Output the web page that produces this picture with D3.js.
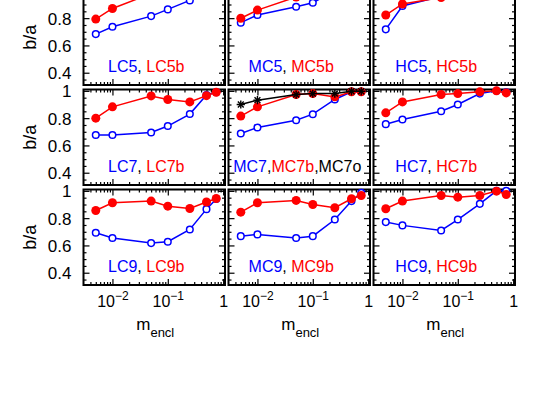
<!DOCTYPE html>
<html><head><meta charset="utf-8">
<script src="https://cdn.jsdelivr.net/npm/d3@7"></script>
<style>body{margin:0;background:#fff}svg{display:block}text{font-family:"Liberation Sans",Arial,sans-serif}</style>
</head><body><svg id="c" width="538" height="393"></svg>
<script>
// ---- data ----
const mencl = [0.005, 0.01, 0.05, 0.1, 0.25, 0.5, 0.75];
const LC5 = [0.683, 0.737, 0.815, 0.864, 0.93, 0.98, 0.99];
const LC5b = [0.793, 0.871, 0.98, 0.99, 0.99, 1.0, 1.0];
const MC5 = [0.767, 0.823, 0.884, 0.913, 1.0, 1.0, 1.0];
const MC5b = [0.799, 0.859, 0.955, 0.97, 0.98, 0.99, 0.99];
const HC5 = [0.718, 0.889, 0.96, 0.98, 0.99, 1.0, 1.0];
const HC5b = [0.823, 0.904, 0.951, 0.97, 0.99, 1.0, 0.99];
const LC7 = [0.676, 0.676, 0.695, 0.742, 0.83, 0.97, 0.99];
const LC7b = [0.80, 0.883, 0.963, 0.937, 0.919, 0.965, 0.99];
const MC7 = [0.688, 0.732, 0.785, 0.829, 0.937, 0.993, 0.993];
const MC7b = [0.815, 0.883, 0.973, 0.98, 0.956, 0.993, 0.993];
const MC7o = [0.90, 0.932, 0.973, 0.98, 0.98, 0.997, 0.997];
const HC7 = [0.756, 0.79, 0.851, 0.90, 0.98, 1.0, 0.99];
const HC7b = [0.839, 0.919, 0.973, 0.98, 0.993, 1.0, 0.985];
const LC9 = [0.693, 0.654, 0.617, 0.627, 0.717, 0.866, 0.94];
const LC9b = [0.856, 0.913, 0.925, 0.888, 0.871, 0.918, 0.944];
const MC9 = [0.668, 0.681, 0.654, 0.668, 0.79, 0.925, 0.986];
const MC9b = [0.844, 0.913, 0.93, 0.90, 0.876, 0.942, 0.966];
const HC9 = [0.771, 0.747, 0.71, 0.79, 0.905, 1.0, 1.0];
const HC9b = [0.869, 0.925, 0.966, 0.954, 0.966, 0.998, 0.973];
const xMajor = [0.01, 0.1, 1];
const xMinor = [0.004,0.005,0.006,0.007,0.008,0.009,0.02,0.03,0.04,0.05,0.06,0.07,0.08,0.09,0.2,0.3,0.4,0.5,0.6,0.7,0.8,0.9];
const xLabels = [["10","−2"],["10","−1"],["1",""]];
const yMajor = [0.4, 0.6, 0.8, 1.0];
const yMinor = [0.35,0.45,0.5,0.55,0.65,0.7,0.75,0.85,0.9,0.95];
const yLabels = ["0.4","0.6","0.8","1"];

const panels = [
  [{blue:["LC5",LC5], red:["LC5b",LC5b]}, {blue:["MC5",MC5], red:["MC5b",MC5b]}, {blue:["HC5",HC5], red:["HC5b",HC5b]}],
  [{blue:["LC7",LC7], red:["LC7b",LC7b]}, {blue:["MC7",MC7], red:["MC7b",MC7b], black:["MC7o",MC7o]}, {blue:["HC7",HC7], red:["HC7b",HC7b]}],
  [{blue:["LC9",LC9], red:["LC9b",LC9b]}, {blue:["MC9",MC9], red:["MC9b",MC9b]}, {blue:["HC9",HC9], red:["HC9b",HC9b]}]
];

// ---- layout ----
const colX = [83.5, 228.5, 373.5], rowY = [-10.5, 89.5, 189.5];
const W = 141.5, H = 95.5;
const x = d3.scaleLog().domain([0.003, 1.08]).range([0, W]);
const y = d3.scaleLinear().domain([0.31, 1.01]).range([H, 0]);
const svg = d3.select("#c");
svg.append("rect").attr("width",538).attr("height",393).attr("fill","#fff");

const line = d3.line().x(d=>x(d[0])).y(d=>y(d[1]));
const BLUE="#0000ff", RED="#ff0000";

function styleAxis(g){ g.select(".domain").remove(); g.selectAll(".tick line").attr("stroke","#000").attr("stroke-width",1.2); g.selectAll("text").attr("fill","#000").attr("font-size",16).attr("font-family","Liberation Sans, Arial, sans-serif"); }

panels.forEach((row, ri) => row.forEach((p, ci) => {
  const g = svg.append("g").attr("transform",`translate(${colX[ci]},${rowY[ri]})`);
  // ticks
  const bot = g.append("g").attr("transform",`translate(0,${H})`)
    .call(d3.axisBottom(x).tickValues(xMajor).tickSize(-6).tickPadding(10).tickFormat(""));
  g.append("g").attr("transform",`translate(0,${H})`).call(d3.axisBottom(x).tickValues(xMinor).tickSize(-3).tickFormat("")).call(styleAxis);
  g.append("g").call(d3.axisTop(x).tickValues(xMajor).tickSize(-6).tickFormat("")).call(styleAxis);
  g.append("g").call(d3.axisTop(x).tickValues(xMinor).tickSize(-3).tickFormat("")).call(styleAxis);
  const left = g.append("g").call(d3.axisLeft(y).tickValues(yMajor).tickSize(-6).tickPadding(12)
    .tickFormat((d,i)=> (ci===0 && rowY[ri] + y(d) > 6) ? yLabels[i] : ""));
  g.append("g").call(d3.axisLeft(y).tickValues(yMinor).tickSize(-3).tickFormat("")).call(styleAxis);
  g.append("g").attr("transform",`translate(${W},0)`).call(d3.axisRight(y).tickValues(yMajor).tickSize(-6).tickFormat("")).call(styleAxis);
  g.append("g").attr("transform",`translate(${W},0)`).call(d3.axisRight(y).tickValues(yMinor).tickSize(-3).tickFormat("")).call(styleAxis);
  styleAxis(bot); styleAxis(left);
  left.selectAll("text").attr("dy","0.36em").attr("font-size",17);
  if (ri === 2) {
    bot.selectAll(".tick text").each(function(d,i){
      const t = d3.select(this).text("").attr("dy",null).attr("y",21.5);
      t.append("tspan").text(xLabels[i][0]);
      if (xLabels[i][1]) t.append("tspan").attr("dy",-7).attr("font-size",12).text(xLabels[i][1]);
    });
    const lab = g.append("text").attr("x",W/2+1).attr("y",H+45).attr("text-anchor","middle").attr("font-size",17);
    lab.append("tspan").text("m");
    lab.append("tspan").attr("dy",7).attr("font-size",13).text("encl");
  }
  if (ci === 0) {
    g.append("text").attr("transform",`translate(${36-colX[0]},${H/2}) rotate(-90)`)
      .attr("text-anchor","middle").attr("font-size",18).text("b/a");
  }
  // border
  g.append("rect").attr("width",W).attr("height",H).attr("fill","none").attr("stroke","#000").attr("stroke-width",2);

  // series
  const pts = v => mencl.map((m,i)=>[m, v[i]]);
  const b = pts(p.blue[1]), r = pts(p.red[1]);
  g.append("path").attr("d",line(b)).attr("fill","none").attr("stroke",BLUE).attr("stroke-width",1.5);
  g.selectAll(".bc").data(b).join("circle").attr("cx",d=>x(d[0])).attr("cy",d=>y(d[1])).attr("r",3.3)
    .attr("fill","#fff").attr("stroke",BLUE).attr("stroke-width",1.5);
  g.append("path").attr("d",line(r)).attr("fill","none").attr("stroke",RED).attr("stroke-width",1.5);
  g.selectAll(".rc").data(r).join("circle").attr("cx",d=>x(d[0])).attr("cy",d=>y(d[1])).attr("r",4.5).attr("fill",RED);
  if (p.black) {
    const k = pts(p.black[1]);
    g.append("path").attr("d",line(k)).attr("fill","none").attr("stroke","#000").attr("stroke-width",1.5);
    [d3.symbolPlus, d3.symbolTimes].forEach(sym => {
      g.selectAll(null).data(k).join("path").attr("transform",d=>`translate(${x(d[0])},${y(d[1])})`)
        .attr("d", d3.symbol(sym, 24)).attr("fill","none").attr("stroke","#000").attr("stroke-width",1.4);
    });
  }
  // label
  const t = g.append("text").attr("y",82).attr("font-size",16).attr("text-anchor","middle")
    .attr("x", p.black ? W/2-2 : W/2-8);
  t.append("tspan").attr("fill",BLUE).text(p.blue[0]);
  t.append("tspan").attr("fill","#000").text(p.black ? "," : ", ");
  t.append("tspan").attr("fill",RED).text(p.red[0]);
  if (p.black) { t.append("tspan").attr("fill","#000").text(","); t.append("tspan").attr("fill","#000").text(p.black[0]); }
}));
</script></body></html>
